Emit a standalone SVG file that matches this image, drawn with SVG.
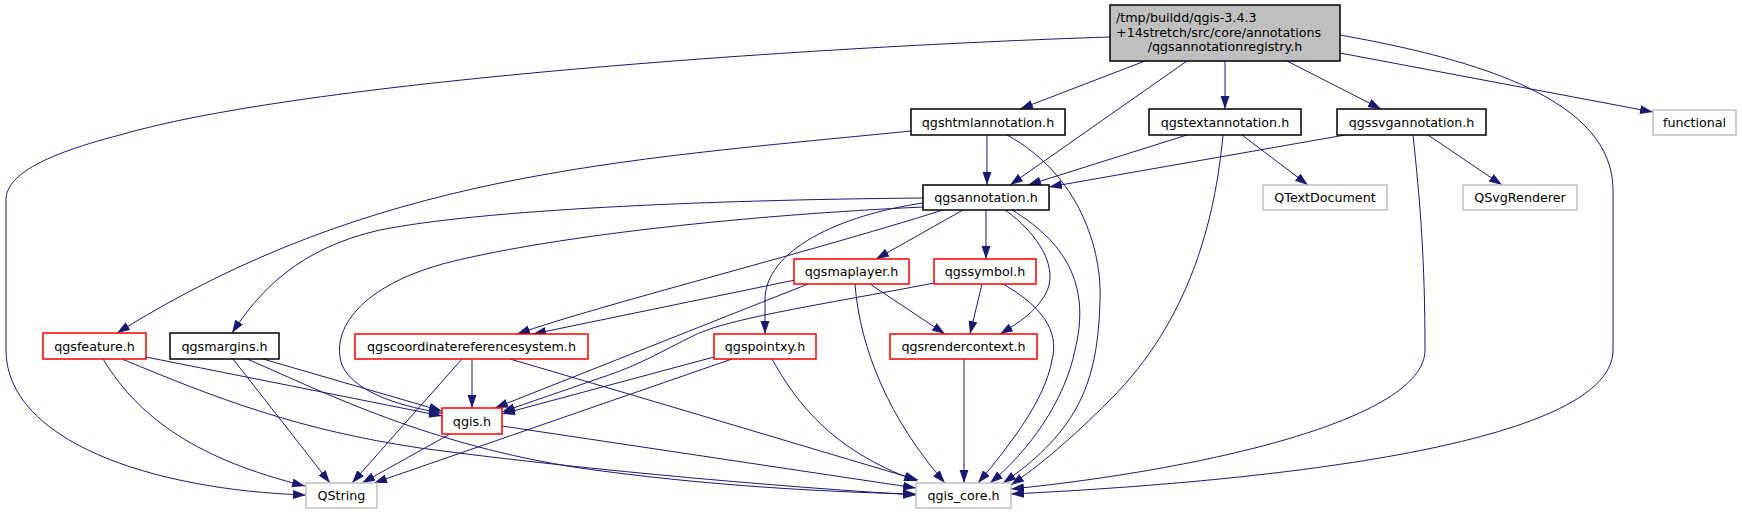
<svg xmlns="http://www.w3.org/2000/svg" width="1742" height="515" viewBox="0 0 1742 515">
<defs>
<style>
text{font-family:"DejaVu Sans","Liberation Sans",sans-serif;font-size:12.7px;fill:#000}
.c{text-anchor:middle}
rect{stroke-width:1.5}
.doc{fill:#fff;stroke:#000}
.red{fill:#fff;stroke:#ff0000}
.ext{fill:#fff;stroke:#bfbfbf}
.main{fill:#bfbfbf;stroke:#000}
#edges path{fill:none;stroke:#191970;stroke-width:1;marker-end:url(#arr)}
</style>
<marker id="arr" markerWidth="14" markerHeight="10" refX="13" refY="4.5" orient="auto" markerUnits="userSpaceOnUse">
<path d="M0,0 L13,4.5 L0,9 z" fill="#191970"/>
</marker>
</defs>
<rect width="1742" height="515" fill="#fff"/>
<g id="edges">
<path d="M1110,37 C800,47 300,82 120,135 C30,158 6,180 6,200 L6,350 C6,440 150,490 306,495"/>
<path d="M1145,61 L1020,109"/>
<path d="M1187,61 L1010,185"/>
<path d="M1225,61 L1225,109"/>
<path d="M1287,61 L1381,109"/>
<path d="M1340,53 L1653,112"/>
<path d="M1340,35 C1480,60 1613,100 1613,190 L1613,350 C1613,440 1300,480 1011,494"/>
<path d="M911,131 C611,161 372,174 117,333"/>
<path d="M987,135 L987,185"/>
<path d="M1007,135 C1080,175 1102,250 1100,300 C1098,380 1080,430 1003,483"/>
<path d="M1187,135 L1028,185"/>
<path d="M1242,135 L1308,185"/>
<path d="M1223,135 C1215,220 1190,320 1110,400 C1070,440 1040,465 1011,485"/>
<path d="M1345,135 L1049,187"/>
<path d="M1428,135 L1502,185"/>
<path d="M1413,135 C1420,200 1425,260 1425,350 C1425,420 1200,470 1011,489"/>
<path d="M923,198 C700,200 480,210 380,230 C300,248 260,290 232,333"/>
<path d="M923,207 C750,215 560,235 450,262 C360,285 330,330 342,365 C355,395 410,408 442,413"/>
<path d="M943,210 C800,255 600,305 517,334"/>
<path d="M923,203 C840,215 765,250 765,300 L765,334"/>
<path d="M963,210 L876,259"/>
<path d="M986,210 L986,259"/>
<path d="M1005,210 C1040,235 1060,270 1045,295 C1035,312 1020,322 1000,334"/>
<path d="M1012,210 C1070,245 1090,290 1075,350 C1065,400 1030,450 990,483"/>
<path d="M795,280 L533,334"/>
<path d="M808,284 L495,408"/>
<path d="M870,284 L945,334"/>
<path d="M855,284 C860,350 890,420 945,483"/>
<path d="M934,283 C820,305 730,318 695,335 C660,352 640,365 600,378 C560,392 530,402 502,412"/>
<path d="M982,284 L970,334"/>
<path d="M1003,284 C1040,305 1060,330 1052,360 C1045,400 1010,445 978,483"/>
<path d="M146,357 L442,416"/>
<path d="M103,359 C140,420 200,460 305,486"/>
<path d="M122,359 C220,400 300,430 420,448 C600,472 800,488 916,495"/>
<path d="M263,359 L442,411"/>
<path d="M233,359 L330,483"/>
<path d="M247,359 C330,395 430,445 580,468 C700,485 820,492 916,494"/>
<path d="M472,359 L472,408"/>
<path d="M462,359 L352,483"/>
<path d="M510,359 C650,400 800,445 918,480"/>
<path d="M714,357 L502,414"/>
<path d="M732,359 L374,483"/>
<path d="M772,359 C795,400 830,450 917,481"/>
<path d="M964,359 L964,483"/>
<path d="M450,434 L362,483"/>
<path d="M502,426 L916,488"/>
</g>
<g id="node-main"><rect class="main" x="1110" y="5" width="230" height="56"/>
<text x="1116" y="22">/tmp/buildd/qgis-3.4.3</text>
<text x="1116" y="36.5">+14stretch/src/core/annotations</text>
<text class="c" x="1225" y="51">/qgsannotationregistry.h</text></g>
<g id="node-qgshtmlannotation"><rect class="doc" x="911" y="109" width="154" height="26"/><text class="c" x="988" y="126.5">qgshtmlannotation.h</text></g>
<g id="node-qgstextannotation"><rect class="doc" x="1149" y="109" width="152" height="26"/><text class="c" x="1225" y="126.5">qgstextannotation.h</text></g>
<g id="node-qgssvgannotation"><rect class="doc" x="1337" y="109" width="149" height="26"/><text class="c" x="1411.5" y="126.5">qgssvgannotation.h</text></g>
<g id="node-functional"><rect class="ext" x="1653" y="110" width="83" height="25"/><text class="c" x="1694.5" y="127">functional</text></g>
<g id="node-qgsannotation"><rect class="doc" x="923" y="185" width="126" height="25"/><text class="c" x="986" y="202">qgsannotation.h</text></g>
<g id="node-QTextDocument"><rect class="ext" x="1263" y="185" width="124" height="25"/><text class="c" x="1325" y="202">QTextDocument</text></g>
<g id="node-QSvgRenderer"><rect class="ext" x="1463" y="185" width="114" height="25"/><text class="c" x="1520" y="202">QSvgRenderer</text></g>
<g id="node-qgsmaplayer"><rect class="red" x="794" y="259" width="115" height="25"/><text class="c" x="851.5" y="276">qgsmaplayer.h</text></g>
<g id="node-qgssymbol"><rect class="red" x="934" y="259" width="102" height="25"/><text class="c" x="985" y="276">qgssymbol.h</text></g>
<g id="node-qgsfeature"><rect class="red" x="43" y="333" width="103" height="26"/><text class="c" x="94.5" y="350.5">qgsfeature.h</text></g>
<g id="node-qgsmargins"><rect class="doc" x="170" y="333" width="109" height="26"/><text class="c" x="224.5" y="350.5">qgsmargins.h</text></g>
<g id="node-qgscrs"><rect class="red" x="355" y="334" width="233" height="25"/><text class="c" x="471.5" y="351">qgscoordinatereferencesystem.h</text></g>
<g id="node-qgspointxy"><rect class="red" x="714" y="334" width="102" height="25"/><text class="c" x="765" y="351">qgspointxy.h</text></g>
<g id="node-qgsrendercontext"><rect class="red" x="890" y="334" width="147" height="25"/><text class="c" x="963.5" y="351">qgsrendercontext.h</text></g>
<g id="node-qgis"><rect class="red" x="442" y="408" width="60" height="26"/><text class="c" x="472" y="425.5">qgis.h</text></g>
<g id="node-QString"><rect class="ext" x="306" y="483" width="71" height="25"/><text class="c" x="341.5" y="500">QString</text></g>
<g id="node-qgis_core"><rect class="ext" x="916" y="483" width="95" height="25"/><text class="c" x="963.5" y="500">qgis_core.h</text></g>
</svg>
